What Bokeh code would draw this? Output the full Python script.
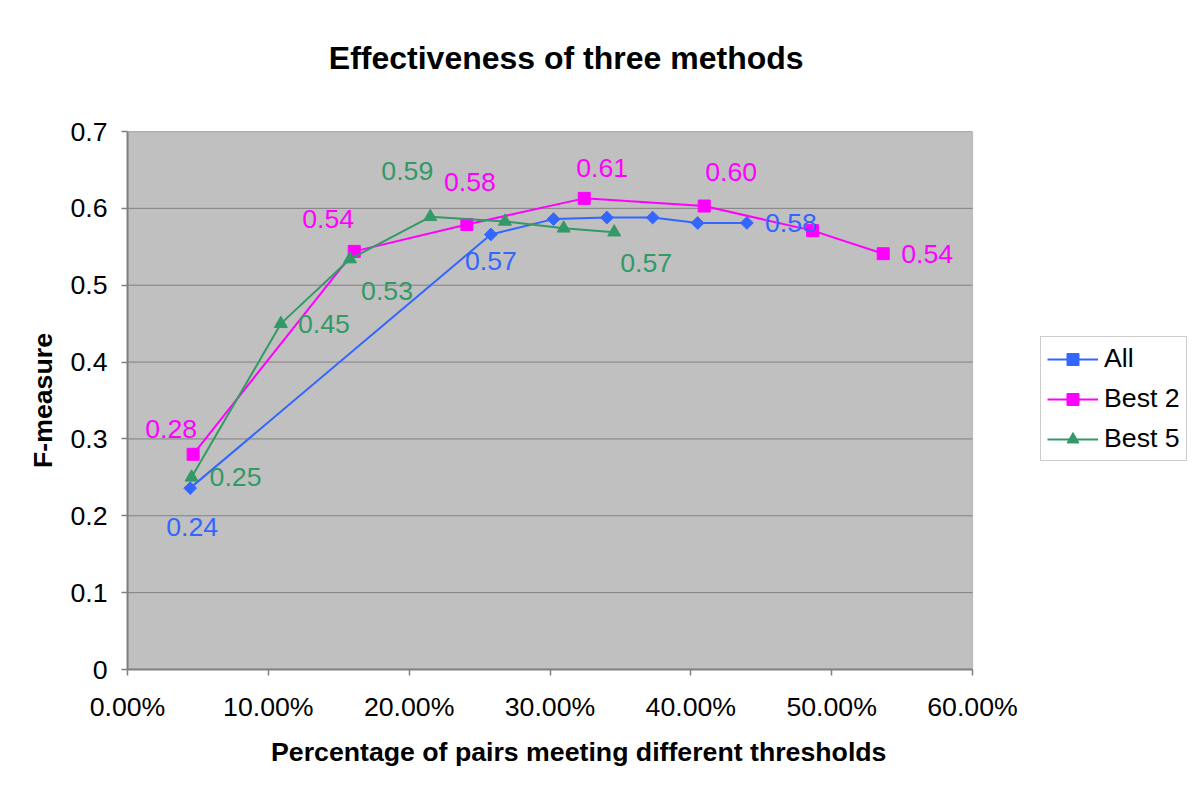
import math
from bokeh.plotting import figure
from bokeh.models import Legend, LegendItem, FixedTicker, LinearAxis, BoxAnnotation
from bokeh.embed import file_html
from bokeh.resources import INLINE
from bokeh.core.properties import value

# ---------------- data ----------------
x_ticks = [0.0, 0.1, 0.2, 0.3, 0.4, 0.5, 0.6]
x_tick_labels = ["0.00%", "10.00%", "20.00%", "30.00%", "40.00%", "50.00%", "60.00%"]
y_ticks = [0.0, 0.1, 0.2, 0.3, 0.4, 0.5, 0.6, 0.7]
y_tick_labels = ["0", "0.1", "0.2", "0.3", "0.4", "0.5", "0.6", "0.7"]

series_names = ["All", "Best 2", "Best 5"]

all_x = [0.0445, 0.258, 0.3025, 0.3404, 0.3729, 0.4048, 0.4398]
all_y = [0.236, 0.566, 0.586, 0.588, 0.588, 0.581, 0.581]

best2_x = [0.0466, 0.161, 0.241, 0.3243, 0.4095, 0.4865, 0.5366]
best2_y = [0.280, 0.544, 0.579, 0.613, 0.603, 0.571, 0.541]

best5_x = [0.0455, 0.1089, 0.158, 0.215, 0.268, 0.3097, 0.3456]
best5_y = [0.250, 0.450, 0.534, 0.589, 0.583, 0.574, 0.569]

# indices of points that carry a data label
all_labeled = [0, 1, 6]
best2_labeled = [0, 1, 2, 3, 4, 6]
best5_labeled = [0, 1, 2, 3, 6]

title_text = "Effectiveness of three methods"
x_title = "Percentage of pairs meeting different thresholds"
y_title = "F-measure"

# ---------------- styling / layout ----------------
FONT = "Liberation Sans"
BLUE = "#3366FF"
MAGENTA = "#FF00FF"
GREEN = "#339966"
GRID = "#808080"
NB = "\u00a0"

# pixel offsets of data labels relative to their point (x right, y down)
all_off = [(2, 39), (0, 27), (44, 0)]
best2_off = [(-22, -25), (-26, -32), (3, -42), (18, -30), (27, -34), (44, 0)]
best5_off = [(44, 0), (43, 0), (37, 32), (-23, -46), (32, 31)]

W, H = 1200, 799
LEFT, RIGHT_PLOT, TOP, BOTTOM = 127, 972, 131, 669
X0, X1, Y0, Y1 = 0.0, 0.6, 0.0, 0.7
# the frame runs to the right edge so the legend can sit beside the plot area
x_end = X1 * (W - LEFT) / (RIGHT_PLOT - LEFT)

p = figure(width=W, height=H, output_backend="svg", toolbar_location=None,
           x_range=(X0, x_end), y_range=(Y0, Y1),
           min_border_left=LEFT, min_border_right=0,
           min_border_top=TOP, min_border_bottom=H - BOTTOM)

p.background_fill_color = "white"
p.border_fill_color = "white"
p.outline_line_color = None

# grey plot area
p.add_layout(BoxAnnotation(left=X0, right=X1, bottom=Y0, top=Y1,
                           fill_color="#C0C0C0", fill_alpha=1,
                           line_color=GRID, line_width=1.5, level="image"))

# axes
p.xaxis.ticker = FixedTicker(ticks=x_ticks)
p.xaxis.major_label_overrides = {t: l for t, l in zip(x_ticks, x_tick_labels)}
p.xaxis.bounds = (X0, X1)
p.yaxis.ticker = FixedTicker(ticks=y_ticks)
p.yaxis.major_label_overrides = {t: l for t, l in zip(y_ticks, y_tick_labels)}

for ax in (p.xaxis, p.yaxis):
    ax.axis_line_color = GRID
    ax.axis_line_width = 2
    ax.major_tick_line_color = GRID
    ax.major_tick_line_width = 1.5
    ax.major_tick_out = 6
    ax.major_tick_in = 0
    ax.minor_tick_line_color = None
    ax.major_label_text_font = FONT
    ax.major_label_text_font_size = "26.7px"
    ax.major_label_text_color = "black"
    ax.axis_label_text_font = FONT
    ax.axis_label_text_font_size = "26.7px"
    ax.axis_label_text_font_style = "bold"
    ax.axis_label_text_color = "black"

p.xaxis.major_label_standoff = 16
p.yaxis.major_label_standoff = 14

p.yaxis.axis_label = y_title
p.yaxis.axis_label_standoff = 9
# axis labels are centred on the whole frame; trailing no-break spaces pull
# the visible text back over the grey plot area as in the reference
p.xaxis.axis_label = x_title + NB * 23
p.xaxis.axis_label_standoff = 12

# chart title drawn as the label of an otherwise invisible top axis
top = LinearAxis(ticker=FixedTicker(ticks=[]), bounds=(X0, X1),
                 axis_line_color=None, major_tick_line_color=None,
                 minor_tick_line_color=None, major_tick_out=0, major_tick_in=0,
                 major_label_standoff=0,
                 axis_label=title_text + NB * 22, axis_label_standoff=56,
                 axis_label_text_font=FONT, axis_label_text_font_size="32px",
                 axis_label_text_font_style="bold", axis_label_text_color="black")
p.add_layout(top, "above")

# horizontal grid lines only across the plot area
p.xgrid.visible = False
p.ygrid.visible = False
p.segment(x0=[X0] * len(y_ticks), x1=[X1] * len(y_ticks), y0=y_ticks, y1=y_ticks,
          line_color=GRID, line_width=1)

# series
def draw(xs, ys, color, marker, size, angle):
    ln = p.line(xs, ys, line_color=color, line_width=2)
    sc = p.scatter(xs, ys, marker=marker, size=size, angle=angle,
                   fill_color=color, line_color=color)
    return ln, sc

l1, s1 = draw(all_x, all_y, BLUE, "square", 9, math.pi / 4)
l2, s2 = draw(best2_x, best2_y, MAGENTA, "square", 12, 0)
l3, s3 = draw(best5_x, best5_y, GREEN, "triangle", 13, 0)

def labels(xs, ys, idx, offs, color):
    p.text(x=[xs[i] for i in idx], y=[ys[i] for i in idx],
           text=[f"{ys[i]:.2f}" for i in idx],
           x_offset=[o[0] for o in offs], y_offset=[o[1] for o in offs],
           text_color=color, text_font=value(FONT), text_font_size=value("26.7px"),
           text_align="center", text_baseline="middle")

labels(all_x, all_y, all_labeled, all_off, BLUE)
labels(best2_x, best2_y, best2_labeled, best2_off, MAGENTA)
labels(best5_x, best5_y, best5_labeled, best5_off, GREEN)

# legend, to the right of the plot area
legend = Legend(items=[LegendItem(label=series_names[0], renderers=[l1, s1]),
                       LegendItem(label=series_names[1], renderers=[l2, s2]),
                       LegendItem(label=series_names[2], renderers=[l3, s3])],
                location=(1040 - LEFT, BOTTOM - 461))
legend.border_line_color = "#999999"
legend.border_line_width = 1
legend.background_fill_color = "white"
legend.background_fill_alpha = 1
legend.label_text_font = FONT
legend.label_text_font_size = "26.7px"
legend.label_text_color = "black"
legend.glyph_width = 51
legend.glyph_height = 30
legend.label_height = 30
legend.label_standoff = 6
legend.spacing = 9
legend.padding = 6
legend.margin = 0
p.add_layout(legend)

open("out.html", "w").write(file_html(p, INLINE))
